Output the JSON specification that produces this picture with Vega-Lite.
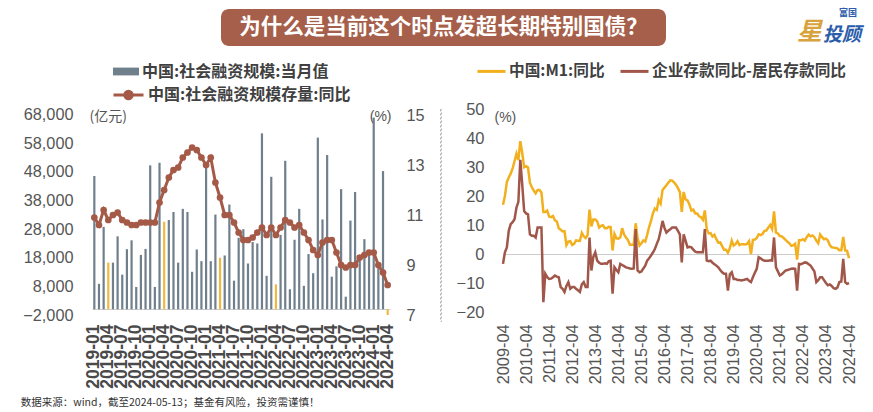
{
  "$schema": "https://vega.github.io/schema/vega-lite/v6.json",
  "padding": {"left": 20, "top": 8, "right": 4, "bottom": 2},
  "background": "white",
  "config": {
    "font": "Liberation Sans",
    "view": {"stroke": null},
    "axis": {"grid": false, "domain": false, "ticks": false, "labelColor": "#555555", "titleColor": "#555555", "titleFontWeight": "normal", "labelOverlap": false}
  },
  "title": {"text": "数据来源：wind，截至2024-05-13；基金有风险，投资需谨慎！", "orient": "bottom", "anchor": "start", "font": "Noto Sans CJK SC", "fontSize": 10.5, "fontWeight": "normal", "color": "#333333", "offset": 10, "dx": -2},
  "datasets": {
    "tsf": [
      {"m":"2019-01","tsf":46600,"yoy":10.9},{"m":"2019-02","tsf":8900,"yoy":10.6},{"m":"2019-03","tsf":28800,"yoy":11.2},{"m":"2019-04","tsf":16300,"yoy":10.8},{"m":"2019-05","tsf":16300,"yoy":11.0},{"m":"2019-06","tsf":25500,"yoy":11.1},{"m":"2019-07","tsf":12100,"yoy":10.8},{"m":"2019-08","tsf":21000,"yoy":10.7},{"m":"2019-09","tsf":24100,"yoy":10.6},{"m":"2019-10","tsf":7800,"yoy":10.6},{"m":"2019-11","tsf":19000,"yoy":10.7},{"m":"2019-12","tsf":21100,"yoy":10.7},
      {"m":"2020-01","tsf":50300,"yoy":10.7},{"m":"2020-02","tsf":7800,"yoy":10.7},{"m":"2020-03","tsf":51200,"yoy":11.5},{"m":"2020-04","tsf":30600,"yoy":12.0},{"m":"2020-05","tsf":31200,"yoy":12.5},{"m":"2020-06","tsf":34000,"yoy":12.8},{"m":"2020-07","tsf":16300,"yoy":12.9},{"m":"2020-08","tsf":35100,"yoy":13.3},{"m":"2020-09","tsf":34000,"yoy":13.5},{"m":"2020-10","tsf":13100,"yoy":13.7},{"m":"2020-11","tsf":20900,"yoy":13.6},{"m":"2020-12","tsf":16800,"yoy":13.3},
      {"m":"2021-01","tsf":50600,"yoy":13.0},{"m":"2021-02","tsf":16800,"yoy":13.3},{"m":"2021-03","tsf":33100,"yoy":12.3},{"m":"2021-04","tsf":18000,"yoy":11.7},{"m":"2021-05","tsf":18800,"yoy":11.0},{"m":"2021-06","tsf":36600,"yoy":11.0},{"m":"2021-07","tsf":10000,"yoy":10.7},{"m":"2021-08","tsf":25000,"yoy":10.3},{"m":"2021-09","tsf":28000,"yoy":10.0},{"m":"2021-10","tsf":16000,"yoy":10.0},{"m":"2021-11","tsf":23500,"yoy":10.1},{"m":"2021-12","tsf":23000,"yoy":10.3},
      {"m":"2022-01","tsf":61500,"yoy":10.5},{"m":"2022-02","tsf":11700,"yoy":10.2},{"m":"2022-03","tsf":46300,"yoy":10.5},{"m":"2022-04","tsf":8700,"yoy":10.2},{"m":"2022-05","tsf":26000,"yoy":10.5},{"m":"2022-06","tsf":51900,"yoy":10.8},{"m":"2022-07","tsf":7000,"yoy":10.7},{"m":"2022-08","tsf":24300,"yoy":10.5},{"m":"2022-09","tsf":35100,"yoy":10.6},{"m":"2022-10","tsf":8200,"yoy":10.3},{"m":"2022-11","tsf":19300,"yoy":10.0},{"m":"2022-12","tsf":12600,"yoy":9.6},
      {"m":"2023-01","tsf":60000,"yoy":9.4},{"m":"2023-02","tsf":31400,"yoy":9.9},{"m":"2023-03","tsf":53900,"yoy":10.0},{"m":"2023-04","tsf":11400,"yoy":10.0},{"m":"2023-05","tsf":15000,"yoy":9.5},{"m":"2023-06","tsf":42000,"yoy":9.0},{"m":"2023-07","tsf":4400,"yoy":8.9},{"m":"2023-08","tsf":31000,"yoy":9.0},{"m":"2023-09","tsf":41000,"yoy":9.0},{"m":"2023-10","tsf":18400,"yoy":9.3},{"m":"2023-11","tsf":24500,"yoy":9.4},{"m":"2023-12","tsf":19300,"yoy":9.5},
      {"m":"2024-01","tsf":67000,"yoy":9.5},{"m":"2024-02","tsf":15000,"yoy":9.0},{"m":"2024-03","tsf":48300,"yoy":8.7},{"m":"2024-04","tsf":-2000,"yoy":8.2}
    ],
    "m1": [
      {"m":"2009-04","m1":17.0,"d":-3.4},{"m":"2009-05","m1":20.0,"d":0.6},{"m":"2009-06","m1":24.8,"d":2.3},{"m":"2009-07","m1":26.4,"d":8.0},{"m":"2009-08","m1":27.7,"d":10.3},{"m":"2009-09","m1":29.5,"d":11.0},{"m":"2009-10","m1":32.0,"d":12.0},{"m":"2009-11","m1":34.6,"d":16.0},{"m":"2009-12","m1":32.4,"d":18.0},
      {"m":"2010-01","m1":38.9,"d":32.5},{"m":"2010-02","m1":34.9,"d":24.0},{"m":"2010-03","m1":29.9,"d":14.8},{"m":"2010-04","m1":30.3,"d":14.0},{"m":"2010-05","m1":29.9,"d":13.7},{"m":"2010-06","m1":24.6,"d":6.8},{"m":"2010-07","m1":23.0,"d":6.3},{"m":"2010-08","m1":21.9,"d":6.3},{"m":"2010-09","m1":20.9,"d":5.7},{"m":"2010-10","m1":22.1,"d":9.1},{"m":"2010-11","m1":22.1,"d":9.1},{"m":"2010-12","m1":21.2,"d":9.1},
      {"m":"2011-01","m1":14.5,"d":-16.6},{"m":"2011-02","m1":14.5,"d":-6.8},{"m":"2011-03","m1":15.0,"d":-8.0},{"m":"2011-04","m1":12.9,"d":-8.6},{"m":"2011-05","m1":12.7,"d":-8.5},{"m":"2011-06","m1":13.1,"d":-8.0},{"m":"2011-07","m1":11.6,"d":-7.4},{"m":"2011-08","m1":11.2,"d":-7.8},{"m":"2011-09","m1":8.9,"d":-8.0},{"m":"2011-10","m1":8.4,"d":-11.4},{"m":"2011-11","m1":7.8,"d":-12.0},{"m":"2011-12","m1":7.9,"d":-13.1},
      {"m":"2012-01","m1":3.1,"d":-11.0},{"m":"2012-02","m1":4.3,"d":-9.7},{"m":"2012-03","m1":4.4,"d":-12.0},{"m":"2012-04","m1":3.1,"d":-11.4},{"m":"2012-05","m1":3.5,"d":-11.4},{"m":"2012-06","m1":4.7,"d":-12.0},{"m":"2012-07","m1":4.6,"d":-12.5},{"m":"2012-08","m1":4.5,"d":-13.1},{"m":"2012-09","m1":7.3,"d":-10.5},{"m":"2012-10","m1":6.1,"d":-9.7},{"m":"2012-11","m1":5.5,"d":-11.4},{"m":"2012-12","m1":6.5,"d":-11.4},
      {"m":"2013-01","m1":15.3,"d":5.7},{"m":"2013-02","m1":9.5,"d":-5.7},{"m":"2013-03","m1":11.9,"d":-1.0},{"m":"2013-04","m1":11.9,"d":0.6},{"m":"2013-05","m1":11.3,"d":-2.3},{"m":"2013-06","m1":9.1,"d":-3.0},{"m":"2013-07","m1":9.7,"d":-3.4},{"m":"2013-08","m1":9.9,"d":-3.4},{"m":"2013-09","m1":8.9,"d":-3.2},{"m":"2013-10","m1":8.9,"d":-3.4},{"m":"2013-11","m1":9.4,"d":-2.5},{"m":"2013-12","m1":9.3,"d":-2.3},
      {"m":"2014-01","m1":1.2,"d":-13.7},{"m":"2014-02","m1":6.9,"d":-4.6},{"m":"2014-03","m1":5.4,"d":-5.5},{"m":"2014-04","m1":5.3,"d":-6.3},{"m":"2014-05","m1":5.7,"d":-3.4},{"m":"2014-06","m1":8.9,"d":-3.8},{"m":"2014-07","m1":6.7,"d":-4.2},{"m":"2014-08","m1":5.7,"d":-4.6},{"m":"2014-09","m1":4.8,"d":-4.8},{"m":"2014-10","m1":3.2,"d":-5.0},{"m":"2014-11","m1":3.2,"d":-5.1},{"m":"2014-12","m1":3.2,"d":-5.0},
      {"m":"2015-01","m1":10.6,"d":8.6},{"m":"2015-02","m1":5.6,"d":-5.7},{"m":"2015-03","m1":2.9,"d":-6.3},{"m":"2015-04","m1":3.7,"d":-6.0},{"m":"2015-05","m1":4.7,"d":-5.0},{"m":"2015-06","m1":4.3,"d":-4.0},{"m":"2015-07","m1":6.6,"d":-2.3},{"m":"2015-08","m1":9.3,"d":-1.5},{"m":"2015-09","m1":11.4,"d":-0.5},{"m":"2015-10","m1":14.0,"d":0.5},{"m":"2015-11","m1":15.7,"d":1.7},{"m":"2015-12","m1":15.2,"d":3.5},
      {"m":"2016-01","m1":18.6,"d":5.1},{"m":"2016-02","m1":17.4,"d":8.0},{"m":"2016-03","m1":22.1,"d":11.4},{"m":"2016-04","m1":22.9,"d":9.0},{"m":"2016-05","m1":23.7,"d":7.4},{"m":"2016-06","m1":24.6,"d":8.0},{"m":"2016-07","m1":25.4,"d":8.5},{"m":"2016-08","m1":25.3,"d":9.1},{"m":"2016-09","m1":24.7,"d":9.1},{"m":"2016-10","m1":23.9,"d":9.1},{"m":"2016-11","m1":22.7,"d":8.0},{"m":"2016-12","m1":21.4,"d":6.8},
      {"m":"2017-01","m1":14.5,"d":-2.9},{"m":"2017-02","m1":21.4,"d":6.8},{"m":"2017-03","m1":18.8,"d":4.5},{"m":"2017-04","m1":18.5,"d":2.3},{"m":"2017-05","m1":17.0,"d":2.5},{"m":"2017-06","m1":15.0,"d":2.3},{"m":"2017-07","m1":15.3,"d":1.5},{"m":"2017-08","m1":14.0,"d":0.8},{"m":"2017-09","m1":14.0,"d":0.6},{"m":"2017-10","m1":13.0,"d":0.6},{"m":"2017-11","m1":12.7,"d":0.6},{"m":"2017-12","m1":11.8,"d":0.6},
      {"m":"2018-01","m1":15.0,"d":8.6},{"m":"2018-02","m1":8.5,"d":-2.3},{"m":"2018-03","m1":7.1,"d":-2.5},{"m":"2018-04","m1":7.2,"d":-2.3},{"m":"2018-05","m1":6.0,"d":-3.0},{"m":"2018-06","m1":6.6,"d":-3.5},{"m":"2018-07","m1":5.1,"d":-4.0},{"m":"2018-08","m1":3.9,"d":-4.6},{"m":"2018-09","m1":4.0,"d":-5.5},{"m":"2018-10","m1":2.7,"d":-6.3},{"m":"2018-11","m1":1.5,"d":-6.8},{"m":"2018-12","m1":1.5,"d":-6.8},
      {"m":"2019-01","m1":0.4,"d":-12.6},{"m":"2019-02","m1":2.0,"d":-7.0},{"m":"2019-03","m1":4.6,"d":-6.3},{"m":"2019-04","m1":2.9,"d":-8.6},{"m":"2019-05","m1":3.4,"d":-8.6},{"m":"2019-06","m1":4.4,"d":-9.0},{"m":"2019-07","m1":3.1,"d":-9.0},{"m":"2019-08","m1":3.4,"d":-9.1},{"m":"2019-09","m1":3.4,"d":-9.0},{"m":"2019-10","m1":3.3,"d":-8.8},{"m":"2019-11","m1":3.5,"d":-8.6},{"m":"2019-12","m1":4.4,"d":-9.2},
      {"m":"2020-01","m1":0.0,"d":-9.7},{"m":"2020-02","m1":4.8,"d":-8.0},{"m":"2020-03","m1":5.0,"d":-6.5},{"m":"2020-04","m1":5.5,"d":-5.1},{"m":"2020-05","m1":6.8,"d":-1.1},{"m":"2020-06","m1":6.5,"d":-1.5},{"m":"2020-07","m1":6.9,"d":-2.0},{"m":"2020-08","m1":8.0,"d":-2.3},{"m":"2020-09","m1":8.1,"d":-2.3},{"m":"2020-10","m1":9.1,"d":-2.3},{"m":"2020-11","m1":10.0,"d":-2.2},{"m":"2020-12","m1":8.6,"d":-2.3},
      {"m":"2021-01","m1":14.7,"d":5.7},{"m":"2021-02","m1":7.4,"d":-4.6},{"m":"2021-03","m1":7.1,"d":-6.0},{"m":"2021-04","m1":6.2,"d":-7.4},{"m":"2021-05","m1":6.1,"d":-7.0},{"m":"2021-06","m1":5.5,"d":-6.3},{"m":"2021-07","m1":4.9,"d":-5.7},{"m":"2021-08","m1":4.2,"d":-5.5},{"m":"2021-09","m1":3.7,"d":-5.3},{"m":"2021-10","m1":2.8,"d":-5.1},{"m":"2021-11","m1":3.0,"d":-5.0},{"m":"2021-12","m1":3.5,"d":-5.1},
      {"m":"2022-01","m1":-1.9,"d":-12.6},{"m":"2022-02","m1":4.7,"d":-3.4},{"m":"2022-03","m1":4.7,"d":-3.5},{"m":"2022-04","m1":5.1,"d":-3.2},{"m":"2022-05","m1":4.6,"d":-2.9},{"m":"2022-06","m1":5.8,"d":-3.0},{"m":"2022-07","m1":6.7,"d":-3.5},{"m":"2022-08","m1":6.1,"d":-4.0},{"m":"2022-09","m1":6.4,"d":-5.0},{"m":"2022-10","m1":5.8,"d":-6.0},{"m":"2022-11","m1":4.6,"d":-9.7},{"m":"2022-12","m1":3.7,"d":-9.0},
      {"m":"2023-01","m1":6.7,"d":-8.0},{"m":"2023-02","m1":5.8,"d":-8.0},{"m":"2023-03","m1":5.1,"d":-9.0},{"m":"2023-04","m1":5.3,"d":-10.0},{"m":"2023-05","m1":4.7,"d":-10.8},{"m":"2023-06","m1":3.1,"d":-10.5},{"m":"2023-07","m1":2.3,"d":-11.0},{"m":"2023-08","m1":2.2,"d":-11.8},{"m":"2023-09","m1":2.1,"d":-12.0},{"m":"2023-10","m1":1.9,"d":-11.5},{"m":"2023-11","m1":1.3,"d":-9.7},{"m":"2023-12","m1":1.3,"d":-9.5},
      {"m":"2024-01","m1":5.9,"d":-1.7},{"m":"2024-02","m1":1.2,"d":-9.7},{"m":"2024-03","m1":1.1,"d":-10.3},{"m":"2024-04","m1":-1.4,"d":-10.0}
    ]
  },
  "vconcat": [
    {
      "spacing": 125,
      "hconcat": [
        {
          "width": 4,
          "height": 37,
          "data": {"values": [{"t": ""}]},
          "mark": {"type": "text"},
          "encoding": {"text": {"field": "t"}}
        },
        {
          "width": 445,
          "height": 37,
          "view": {"fill": "#a65f4a", "stroke": null, "cornerRadius": 8},
          "data": {"values": [{"t": "为什么是当前这个时点发超长期特别国债？"}]},
          "mark": {"type": "text", "color": "white", "fontSize": 21.5, "fontWeight": "bold", "font": "Noto Sans CJK SC", "baseline": "middle", "align": "center"},
          "encoding": {"text": {"field": "t"}}
        },
        {
          "width": 70,
          "height": 37,
          "data": {"values": [{"a": "星", "b": "投顾", "c": "富国"}]},
          "layer": [
            {"mark": {"type": "text", "color": "#d8a23c", "fontSize": 25, "fontWeight": "bold", "fontStyle": "italic", "font": "Noto Sans CJK SC", "align": "right", "baseline": "middle", "dx": -4, "dy": 4},
             "encoding": {"text": {"field": "a"}}},
            {"mark": {"type": "text", "color": "#2a5caa", "fontSize": 19, "fontWeight": "bold", "fontStyle": "italic", "font": "Noto Sans CJK SC", "align": "left", "baseline": "middle", "dx": -3, "dy": 7},
             "encoding": {"text": {"field": "b"}}},
            {"mark": {"type": "text", "color": "#2a5caa", "fontSize": 9, "fontWeight": "bold", "font": "Noto Sans CJK SC", "align": "left", "baseline": "middle", "dx": 13, "dy": -15},
             "encoding": {"text": {"field": "c"}}}
          ]
        }
      ]
    },
    {
      "spacing": 14,
      "resolve": {"scale": {"fill": "independent", "stroke": "independent", "x": "independent", "y": "independent"}, "legend": {"fill": "independent", "stroke": "independent"}},
      "hconcat": [
        {
          "width": 298,
          "height": 206,
          "data": {"name": "tsf"},
          "layer": [
            {
              "mark": {"type": "bar", "size": 2.2},
              "encoding": {
                "x": {"field": "m", "type": "ordinal", "sort": null, "scale": {"paddingInner": 0, "paddingOuter": 0},
                  "axis": {"title": null, "labelAngle": -90, "labelFontSize": 17.5, "labelFontWeight": "bold", "labelColor": "#4a4a4a", "labelPadding": 9,
                    "labelExpr": "indexof(['01','04','07','10'], slice(datum.value, 5)) >= 0 ? datum.value : ''"}},
                "y": {"field": "tsf", "type": "quantitative", "scale": {"domain": [-2000, 70000], "nice": false},
                  "axis": {"orient": "left", "values": [-2000, 0, 8000, 18000, 28000, 38000, 48000, 58000, 68000], "labelExpr": "datum.value === 0 ? '' : format(datum.value, ',.0f')", "labelFontSize": 16.3, "labelPadding": 19,
                    "grid": true, "gridColor": "#cccccc", "gridOpacity": {"condition": {"test": "datum.value === 0", "value": 1}, "value": 0},
                    "title": "(亿元)", "titleFont": "Noto Sans CJK SC", "titleFontSize": 14, "titleAngle": 0, "titleAlign": "left", "titleBaseline": "middle", "titleX": -3, "titleY": 7.5}},
                "fill": {"datum": "中国:社会融资规模:当月值",
                  "condition": {"test": "indexof(['2019-04','2020-04','2021-04','2022-04','2024-04'], datum.m) >= 0", "value": "#efb940"},
                  "scale": {"range": ["#6f7f8c"]},
                  "legend": {"orient": "none", "legendX": 21, "legendY": -50.5, "title": null, "padding": 0, "symbolType": "M-1,-0.3H1V0.3H-1Z", "symbolSize": 676, "symbolStrokeWidth": 0, "labelFont": "Noto Sans CJK SC", "labelFontSize": 16, "labelFontWeight": "bold", "labelColor": "#404040", "labelOffset": 3, "labelLimit": 400}}
              }
            },
            {
              "layer": [
                {
                  "mark": {"type": "line", "strokeWidth": 3},
                  "encoding": {
                    "x": {"field": "m", "type": "ordinal", "sort": null},
                    "y": {"field": "yoy", "type": "quantitative", "scale": {"domain": [7, 15.24], "nice": false, "zero": false},
                      "axis": {"orient": "right", "values": [7, 8, 9, 10, 11, 12, 13, 14, 15], "labelFontSize": 16.3, "labelPadding": 16,
                        "title": "(%)", "titleFontSize": 14, "titleAngle": 0, "titleAlign": "right", "titleBaseline": "middle", "titleX": 1, "titleY": 7.5}},
                    "stroke": {"datum": "中国:社会融资规模存量:同比", "scale": {"range": ["#a55a48"]},
                      "legend": {"orient": "none", "legendX": 20, "legendY": -30.5, "title": null, "padding": 0, "symbolType": "M-1,0H1M0.25,0A0.25,0.25,0,1,1,-0.25,0A0.25,0.25,0,1,1,0.25,0Z", "symbolSize": 900, "symbolStrokeWidth": 3, "symbolFillColor": "#a55a48", "labelFont": "Noto Sans CJK SC", "labelFontSize": 16, "labelFontWeight": "bold", "labelColor": "#404040", "labelOffset": 3, "labelLimit": 400}}
                  }
                },
                {
                  "mark": {"type": "point", "filled": true, "size": 45, "color": "#a55a48", "opacity": 1},
                  "encoding": {
                    "x": {"field": "m", "type": "ordinal", "sort": null},
                    "y": {"field": "yoy", "type": "quantitative"}
                  }
                }
              ]
            }
          ],
          "resolve": {"scale": {"y": "independent"}}
        },
        {
          "width": 1,
          "height": 212,
          "view": {"stroke": "#b5b5b5", "strokeDash": [2, 2], "strokeWidth": 1},
          "data": {"values": [{"t": ""}]},
          "mark": {"type": "text"},
          "encoding": {"text": {"field": "t"}}
        },
        {
          "width": 346,
          "height": 203,
          "data": {"name": "m1"},
          "layer": [
            {
              "mark": {"type": "line", "strokeWidth": 2.5},
              "encoding": {
                "x": {"field": "m", "type": "ordinal", "sort": null, "scale": {"type": "point", "padding": 0},
                  "axis": {"title": null, "labelAngle": -90, "labelFontSize": 16.3, "labelColor": "#555555", "labelPadding": 12,
                    "labelExpr": "slice(datum.value, 5) == '04' ? datum.value : ''"}},
                "y": {"field": "m1", "type": "quantitative", "scale": {"domain": [-20, 50], "nice": false},
                  "axis": {"values": [-20, -10, 0, 10, 20, 30, 40, 50], "labelExpr": "format(datum.value, '.0f')", "labelFontSize": 16.5, "labelPadding": 19,
                    "grid": true, "gridColor": "#cccccc", "gridOpacity": {"condition": {"test": "datum.value === 0", "value": 1}, "value": 0},
                    "title": "(%)", "titleFontSize": 14, "titleAngle": 0, "titleAlign": "left", "titleBaseline": "middle", "titleX": -9, "titleY": 8}},
                "stroke": {"datum": "中国:M1:同比",
                  "scale": {"domain": ["中国:M1:同比", "企业存款同比-居民存款同比"], "range": ["#f2b01e", "#a0574a"]},
                  "legend": {"orient": "none", "direction": "horizontal", "legendX": -27, "legendY": -53.5, "title": null, "padding": 0, "symbolType": "stroke", "symbolSize": 784, "symbolStrokeWidth": 3, "labelFont": "Noto Sans CJK SC", "labelFontSize": 15.7, "labelFontWeight": "bold", "labelColor": "#404040", "labelOffset": 2, "columnPadding": 9, "labelLimit": 400}}
              }
            },
            {
              "mark": {"type": "line", "strokeWidth": 2.5},
              "encoding": {
                "x": {"field": "m", "type": "ordinal", "sort": null},
                "y": {"field": "d", "type": "quantitative",
                  "axis": {"values": [-20, -10, 0, 10, 20, 30, 40, 50], "labelExpr": "format(datum.value, '.0f')", "labelFontSize": 16.5, "labelPadding": 19,
                    "grid": true, "gridColor": "#cccccc", "gridOpacity": {"condition": {"test": "datum.value === 0", "value": 1}, "value": 0},
                    "title": "(%)", "titleFontSize": 14, "titleAngle": 0, "titleAlign": "left", "titleBaseline": "middle", "titleX": -9, "titleY": 8}},
                "stroke": {"datum": "企业存款同比-居民存款同比"}
              }
            }
          ]
        }
      ]
    }
  ],
  "resolve": {"scale": {"fill": "independent", "stroke": "independent"}, "legend": {"fill": "independent", "stroke": "independent"}},
  "spacing": 9
}
